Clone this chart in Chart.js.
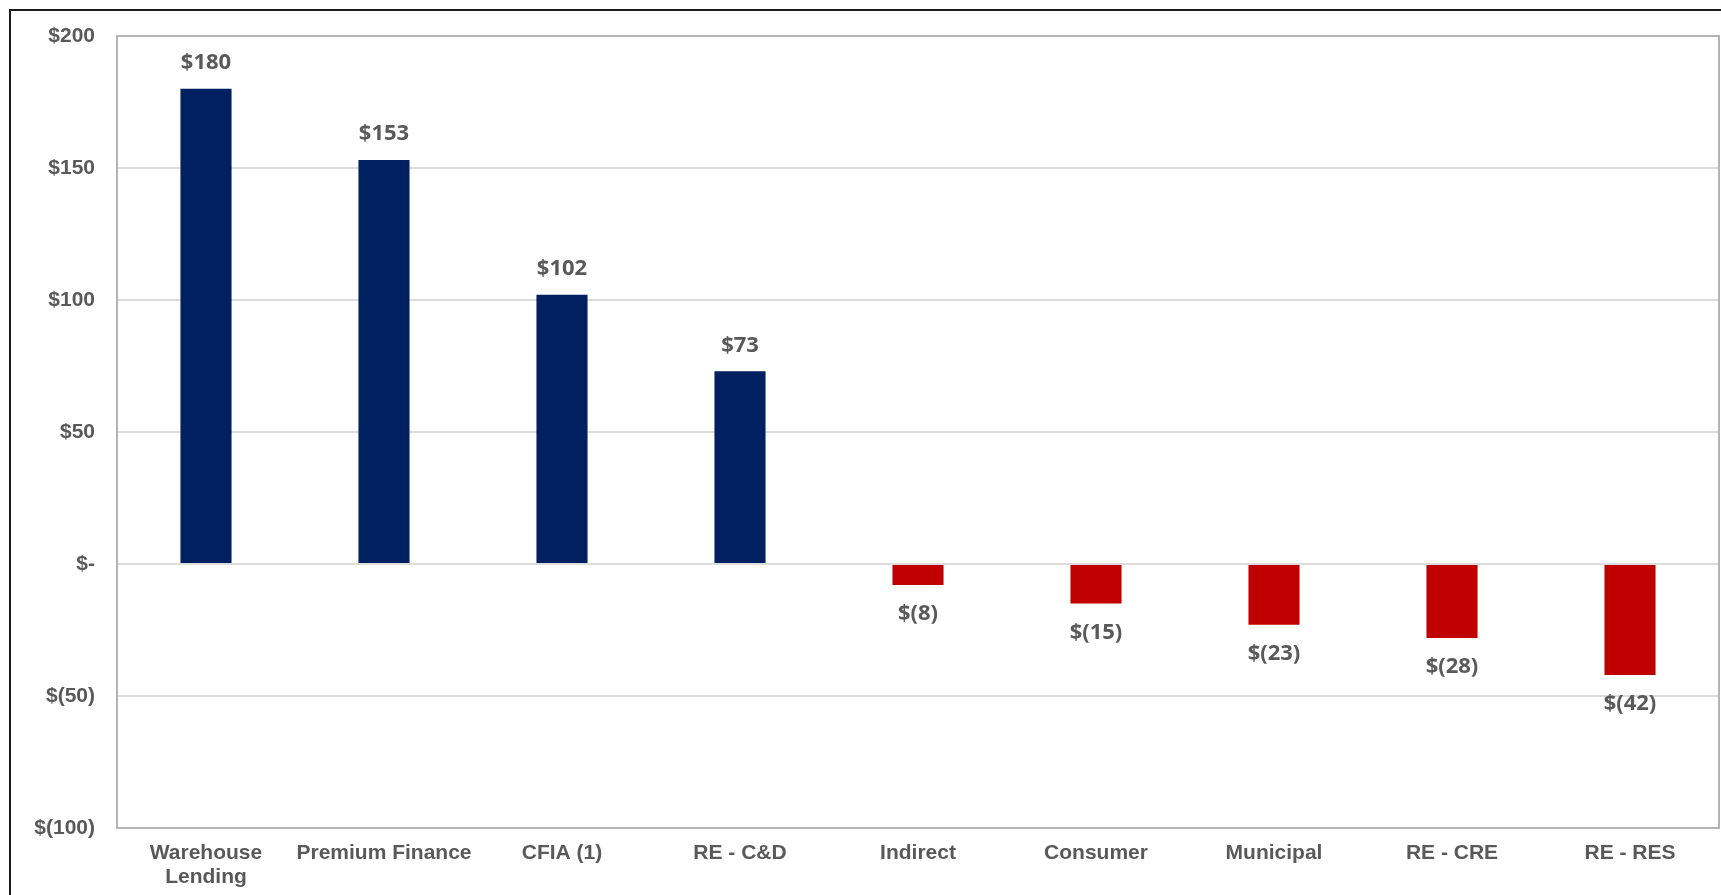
<!DOCTYPE html>
<html>
<head>
<meta charset="utf-8">
<script src="https://cdn.jsdelivr.net/npm/chart.js@4.4.1/dist/chart.umd.min.js"></script>
<style>
  html, body { margin: 0; padding: 0; background: #fff; overflow: hidden; }
  #frame {
    position: absolute; left: 9px; top: 9px; width: 1740px; height: 900px;
    border-left: 2px solid #1a1a1a; border-top: 2px solid #1a1a1a;
  }
  #wrap { position: absolute; left: 0; top: 0; width: 1721px; height: 895px; }
</style>
</head>
<body>
<div id="frame"></div>
<div id="wrap"><canvas id="growth_chart"></canvas></div>
<script>
// Loan growth by portfolio ($ millions)
const categories = [
  ['Warehouse', 'Lending'], 'Premium Finance', 'CFIA (1)', 'RE - C&D',
  'Indirect', 'Consumer', 'Municipal', 'RE - CRE', 'RE - RES'
]
const growth = [180, 153, 102, 73, -8, -15, -23, -28, -42]
const yTicks = [200, 150, 100, 50, 0, -50, -100]

const NAVY = '#002060'
const RED = '#C00000'
const TEXT = '#595959'

function money(v) {
  if (v === 0) return '$-'
  if (v < 0) return '$(' + Math.abs(v) + ')'
  return '$' + v
}

// box around the plot area
const plotBorder = {
  id: 'plotBorder',
  afterDraw(chart) {
    const {ctx, chartArea: a} = chart
    ctx.save()
    ctx.strokeStyle = '#b4b4b4'
    ctx.lineWidth = 2
    ctx.strokeRect(a.left, a.top, a.right - a.left, a.bottom - a.top)
    ctx.restore()
  }
}

// value labels above positive bars / below negative ones
const valueLabels = {
  id: 'valueLabels',
  afterDatasetsDraw(chart) {
    const ctx = chart.ctx
    const meta = chart.getDatasetMeta(0)
    ctx.save()
    ctx.font = 'bold 22px "Open Sans"'
    ctx.fillStyle = TEXT
    ctx.textAlign = 'center'
    ctx.textBaseline = 'middle'
    meta.data.forEach((bar, i) => {
      const v = growth[i]
      const y = v >= 0 ? bar.y - 26 : bar.y + 29
      ctx.fillText(money(v), bar.x, y)
    })
    ctx.restore()
  }
}

const ctx = document.getElementById('growth_chart').getContext('2d')

const growth_chart = new Chart(ctx, {
  type: 'bar',
  data: {
    labels: categories,
    datasets: [{
      data: growth,
      backgroundColor: growth.map(v => v >= 0 ? NAVY : RED),
      borderWidth: 0,
      barPercentage: 0.287,
      categoryPercentage: 1.0
    }]
  },
  options: {
    responsive: true,
    maintainAspectRatio: false,
    animation: false,
    layout: { padding: { top: 36, right: 2, bottom: 0, left: 0 } },
    plugins: {
      legend: { display: false },
      tooltip: { enabled: false }
    },
    scales: {
      x: {
        grid: { display: false, drawTicks: false },
        border: { display: false },
        afterFit(scale) { scale.height = 67 },
        ticks: {
          color: TEXT,
          font: { family: 'Liberation Sans, Arial', weight: 'bold', size: 21, lineHeight: 1.15 },
          padding: 13,
          maxRotation: 0,
          autoSkip: false
        }
      },
      y: {
        min: -100,
        max: 200,
        afterFit(scale) { scale.width = 117 },
        afterBuildTicks(scale) { scale.ticks = yTicks.map(v => ({value: v})) },
        grid: { color: '#dcdcdc', lineWidth: 2, drawTicks: false },
        border: { display: false },
        ticks: {
          color: TEXT,
          font: { family: 'Liberation Sans, Arial', weight: 'bold', size: 21 },
          padding: 22,
          callback: v => money(v)
        }
      }
    }
  },
  plugins: [plotBorder, valueLabels]
})
</script>
</body>
</html>
